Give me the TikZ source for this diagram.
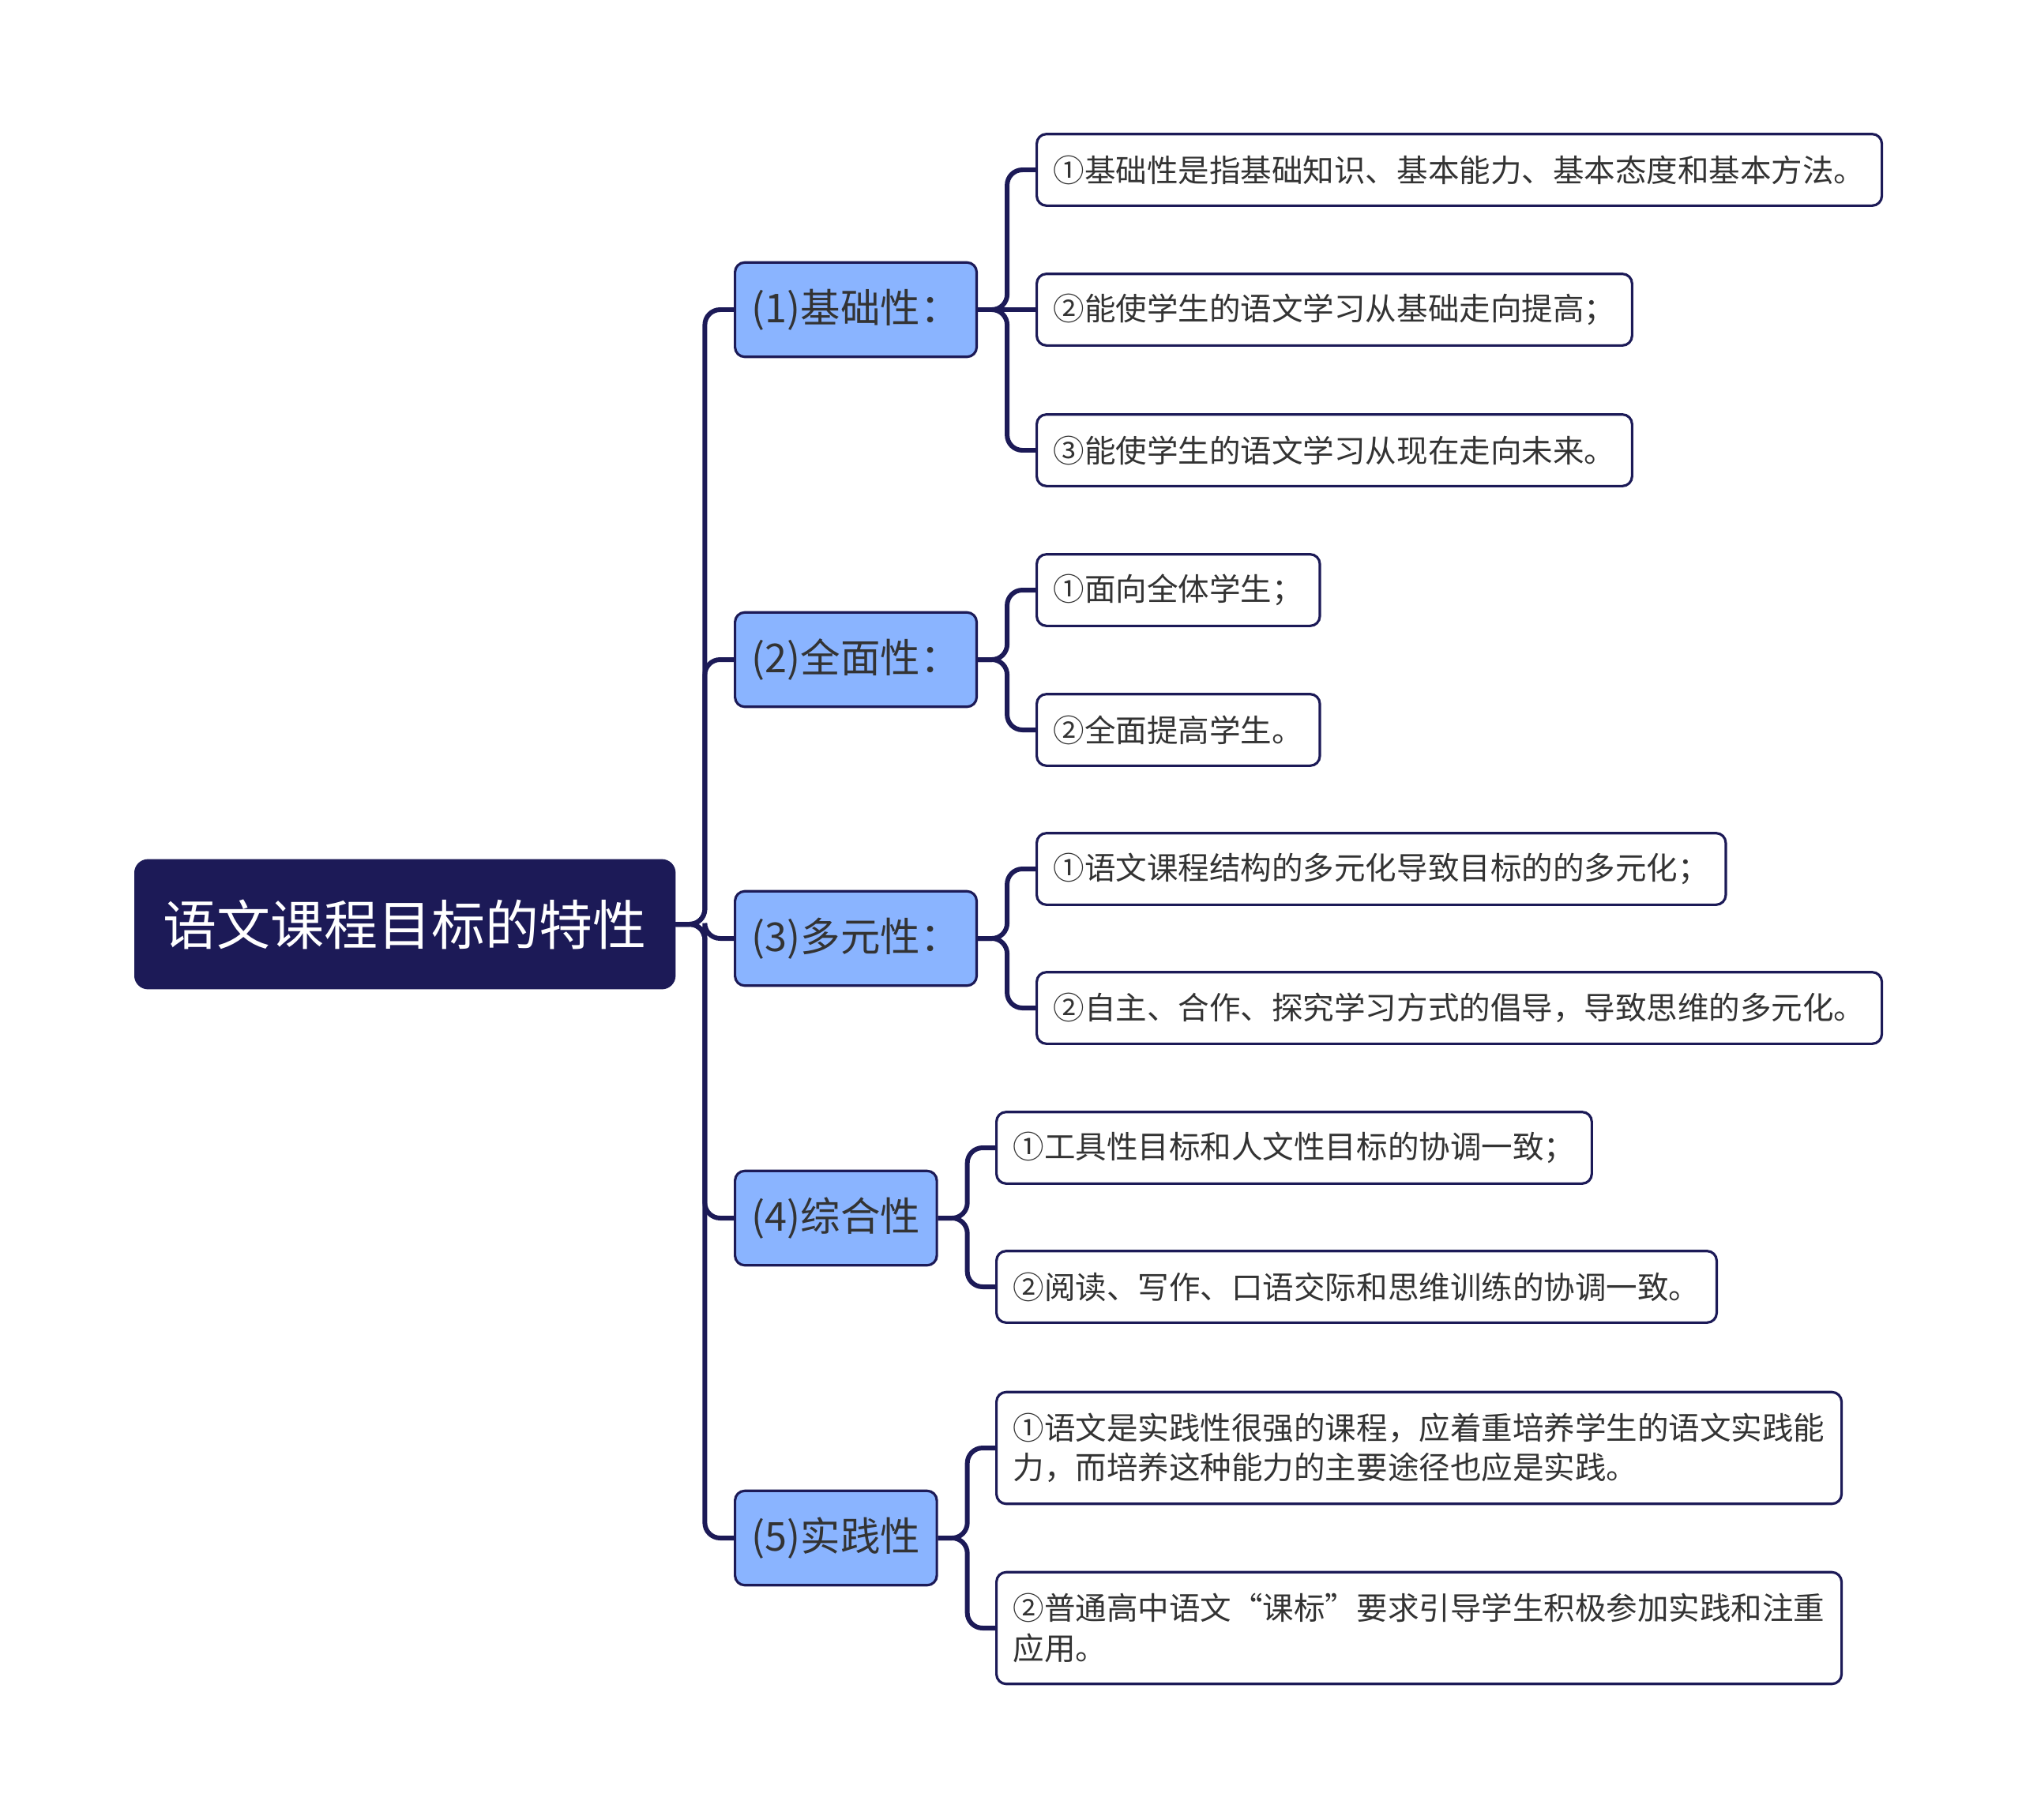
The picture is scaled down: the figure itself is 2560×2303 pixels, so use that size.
\documentclass[tikz,border=0pt]{standalone}
\usepackage{fontspec}
\newfontfamily\cjk{Noto Sans CJK SC}
\definecolor{navy}{HTML}{1C1A57}
\definecolor{skyblue}{HTML}{8AB4FF}
\definecolor{ink}{HTML}{333333}
\tikzset{
	rootbox/.style={draw=navy,fill=navy,text=white,rounded corners=9pt,line width=1.8pt,minimum height=92pt,inner xsep=20pt,anchor=west,font=\cjk\fontsize{38.7pt}{46pt}\selectfont},
	catbox/.style={draw=navy,fill=skyblue,text=ink,rounded corners=7pt,line width=1.8pt,minimum height=68pt,inner xsep=12pt,anchor=west,font=\cjk\fontsize{28.7pt}{34pt}\selectfont},
	leafbox/.style={draw=navy,fill=white,text=ink,rounded corners=7pt,line width=1.8pt,minimum height=51.6pt,inner xsep=12pt,anchor=west,align=left,font=\cjk\fontsize{22.5pt}{28.7pt}\selectfont},
	link/.style={navy,line width=3.4pt,rounded corners=11pt},
}
\begin{document}
\begin{tikzpicture}[x=0.02cm,y=-0.02cm]
			\useasboundingbox (0,0) rectangle (2560,2303);
			% root and categories
			\node[rootbox] (root) at (170,1170) {语文课程目标的特性};
			\node[catbox] (b1) at (929,392) {(1)基础性：};
			\node[catbox] (b2) at (929,835) {(2)全面性：};
			\node[catbox] (b3) at (929,1188) {(3)多元性：};
			\node[catbox] (b4) at (929,1542) {(4)综合性};
			\node[catbox] (b5) at (929,1947) {(5)实践性};
			% leaves
			\node[leafbox] (b1a) at (1311,215) {①基础性是指基础知识、基本能力、基本态度和基本方法。};
			\node[leafbox] (b1b) at (1311,392) {②能使学生的语文学习从基础走向提高；};
			\node[leafbox] (b1c) at (1311,570) {③能使学生的语文学习从现在走向未来。};
			\node[leafbox] (b2a) at (1311,747) {①面向全体学生；};
			\node[leafbox] (b2b) at (1311,924) {②全面提高学生。};
			\node[leafbox] (b3a) at (1311,1100) {①语文课程结构的多元化导致目标的的多元化；};
			\node[leafbox] (b3b) at (1311,1276) {②自主、合作、探究学习方式的倡导，导致思维的多元化。};
			\node[leafbox] (b4a) at (1260,1453) {①工具性目标和人文性目标的协调一致；};
			\node[leafbox] (b4b) at (1260,1629) {②阅读、写作、口语交际和思维训练的协调一致。};
			\node[leafbox,minimum height=80.5pt] (b5a) at (1260,1833) {①语文是实践性很强的课程，应着重培养学生的语文实践能\\力，而培养这种能力的主要途径也应是实践。};
			\node[leafbox,minimum height=80.5pt] (b5b) at (1260,2061) {②普通高中语文“课标”要求引导学生积极参加实践和注重\\应用。};
			% connectors
			\draw[link] (root.east) -- ++(37,0) |- (b1.west);
			\draw[link] (root.east) -- ++(37,0) |- (b2.west);
			\draw[link] (root.east) -- ++(37,0) |- (b3.west);
			\draw[link] (root.east) -- ++(37,0) |- (b4.west);
			\draw[link] (root.east) -- ++(37,0) |- (b5.west);
			\draw[link] (b1.east) -- ++(37,0) |- (b1a.west);
			\draw[link] (b1.east) -- (b1b.west);
			\draw[link] (b1.east) -- ++(37,0) |- (b1c.west);
			\draw[link] (b2.east) -- ++(37,0) |- (b2a.west);
			\draw[link] (b2.east) -- ++(37,0) |- (b2b.west);
			\draw[link] (b3.east) -- ++(37,0) |- (b3a.west);
			\draw[link] (b3.east) -- ++(37,0) |- (b3b.west);
			\draw[link] (b4.east) -- ++(37,0) |- (b4a.west);
			\draw[link] (b4.east) -- ++(37,0) |- (b4b.west);
			\draw[link] (b5.east) -- ++(37,0) |- (b5a.west);
			\draw[link] (b5.east) -- ++(37,0) |- (b5b.west);
		\end{tikzpicture}
\end{document}
